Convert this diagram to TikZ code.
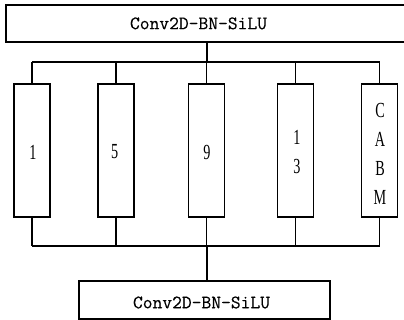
\documentclass[tikz,border=0pt]{standalone}
\usepackage{fontspec}
\setmainfont{Liberation Serif}
\newfontfamily\monof[FakeBold=0.3]{Latin Modern Mono}
\newfontfamily\narrowf[FakeStretch=0.66]{Liberation Serif}
\begin{document}
\begin{tikzpicture}[x=1pt,y=-1pt,
  blk/.style={draw=black,line width=1.1pt,inner sep=0pt,fill=white},
  lbl/.style={inner sep=0pt,font=\narrowf\fontsize{21.5}{29}\selectfont,align=center},
  conv/.style={inner sep=0pt,font=\monof\fontsize{19}{22}\selectfont},
  wire/.style={draw=black,line width=1.1pt}]
\useasboundingbox (0,0) rectangle (404,320);
\begin{scope}
\clip (0,0) rectangle (404,320);
\node[blk,minimum width=406pt,minimum height=37pt] (top) at (209,23.5) {};
\end{scope}
\node[conv] (toptext) at (198.5,23.4) {Conv2D-BN-SiLU};
\node[blk,minimum width=251pt,minimum height=38pt] (bot) at (204.5,300) {};
\node[conv] (bottext) at (201.5,302.5) {Conv2D-BN-SiLU};

\foreach \n/\x in {b1/32,b2/116,b3/206.5,b4/295.5,b5/379.5}
  \node[blk,minimum width=36pt,minimum height=133pt] (\n) at (\x,150.5) {};

\node[lbl] (t1) at (33,152) {1};
\node[lbl] (t2) at (114.7,151.7) {5};
\node[lbl] (t3) at (207,152) {9};
\node[lbl] (t4) at (297,152.5) {1\\3};
\node[lbl] (t5) at (380,154) {C\\A\\B\\M};

\coordinate (hubT) at (207,62);
\coordinate (hubB) at (207,246);
\draw[wire] (top.south -| hubT) -- (hubT);
\draw[wire] (b1.north |- hubT) -- (b5.north |- hubT);
\draw[wire] (hubB) -- (bot.north -| hubB);
\draw[wire] (b1.south |- hubB) -- (b5.south |- hubB);
\foreach \n in {b1,b2,b3,b4,b5}{
  \draw[wire] (\n.north) -- (\n.north |- hubT);
  \draw[wire] (\n.south) -- (\n.south |- hubB);
}
\end{tikzpicture}
\end{document}
